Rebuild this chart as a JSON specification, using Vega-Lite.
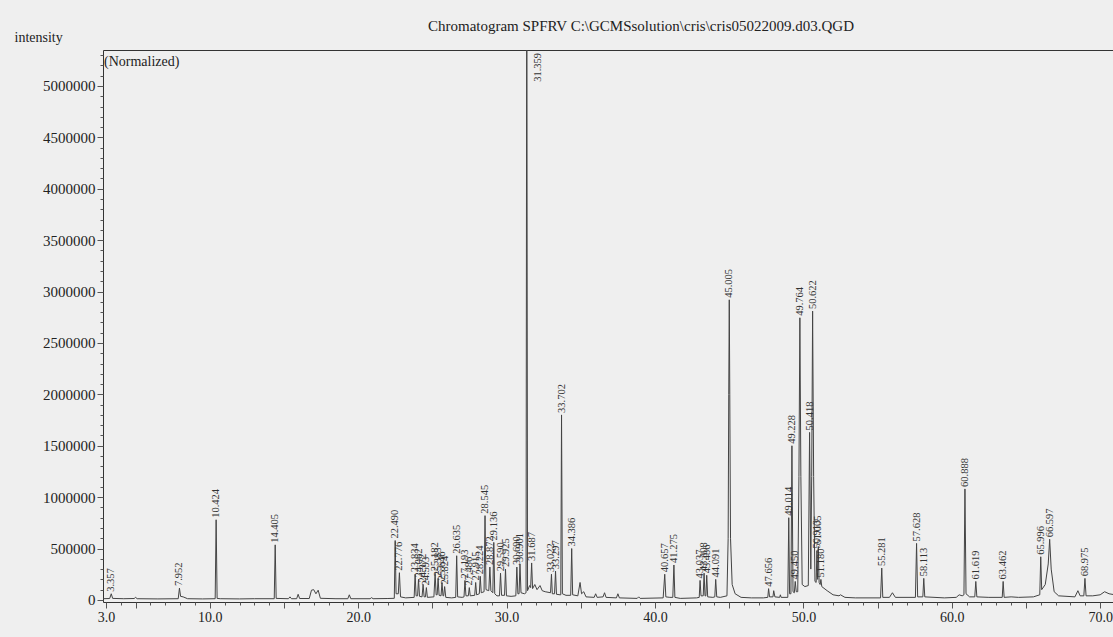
{
  "$schema": "https://vega.github.io/schema/vega-lite/v6.json",
  "width": 1012,
  "height": 552,
  "autosize": {"type": "none"},
  "padding": {"left": 103, "top": 50, "right": 0, "bottom": 35},
  "background": "#efefef",
  "title": {
    "text": "Chromatogram SPFRV C:\\GCMSsolution\\cris\\cris05022009.d03.QGD",
    "anchor": "middle", "frame": "group", "dx": 32, "dy": 36, "offset": 17, "baseline": "bottom",
    "font": "Liberation Serif", "fontSize": 15, "fontWeight": "normal", "color": "#222"
  },
  "config": {
    "view": {"stroke": "#333", "strokeWidth": 1},
    "font": "Liberation Serif",
    "axis": {"labelOverlap": false, "labelBound": false}
  },
  "resolve": {"axis": {"x": "independent", "y": "independent"}},
  "datasets": {
    "trace": [
      {"t": 2.8, "v": 12000}, {"t": 3.25, "v": 14000}, {"t": 3.357, "v": 60000}, {"t": 3.45, "v": 15000},
      {"t": 4.2, "v": 12000}, {"t": 4.9, "v": 14000}, {"t": 5.0, "v": 25000}, {"t": 5.1, "v": 12000},
      {"t": 6.5, "v": 10000}, {"t": 7.87, "v": 12000}, {"t": 7.952, "v": 115000}, {"t": 8.03, "v": 35000}, {"t": 8.2, "v": 30000}, {"t": 8.5, "v": 12000},
      {"t": 9.5, "v": 10000}, {"t": 10.36, "v": 12000}, {"t": 10.424, "v": 780000}, {"t": 10.49, "v": 15000}, {"t": 10.7, "v": 12000},
      {"t": 12.0, "v": 10000}, {"t": 13.0, "v": 12000}, {"t": 14.34, "v": 12000}, {"t": 14.405, "v": 536000}, {"t": 14.47, "v": 15000},
      {"t": 15.3, "v": 12000}, {"t": 15.4, "v": 30000}, {"t": 15.5, "v": 12000}, {"t": 15.85, "v": 12000}, {"t": 15.95, "v": 55000}, {"t": 16.05, "v": 14000},
      {"t": 16.7, "v": 14000}, {"t": 16.85, "v": 95000}, {"t": 17.0, "v": 100000}, {"t": 17.15, "v": 60000}, {"t": 17.3, "v": 95000}, {"t": 17.45, "v": 16000},
      {"t": 18.5, "v": 12000}, {"t": 19.3, "v": 12000}, {"t": 19.4, "v": 50000}, {"t": 19.5, "v": 12000},
      {"t": 20.8, "v": 12000}, {"t": 20.9, "v": 22000}, {"t": 21.0, "v": 12000},
      {"t": 22.0, "v": 14000}, {"t": 22.43, "v": 16000}, {"t": 22.49, "v": 578000}, {"t": 22.55, "v": 60000}, {"t": 22.7, "v": 60000}, {"t": 22.776, "v": 265000}, {"t": 22.85, "v": 30000}, {"t": 23.2, "v": 20000},
      {"t": 23.77, "v": 25000}, {"t": 23.834, "v": 250000}, {"t": 23.9, "v": 40000}, {"t": 24.0, "v": 40000}, {"t": 24.062, "v": 200000}, {"t": 24.13, "v": 35000}, {"t": 24.3, "v": 30000}, {"t": 24.372, "v": 150000}, {"t": 24.44, "v": 30000}, {"t": 24.53, "v": 30000}, {"t": 24.593, "v": 120000}, {"t": 24.66, "v": 25000},
      {"t": 25.1, "v": 30000}, {"t": 25.182, "v": 260000}, {"t": 25.25, "v": 50000}, {"t": 25.32, "v": 50000}, {"t": 25.383, "v": 210000}, {"t": 25.45, "v": 45000}, {"t": 25.58, "v": 40000}, {"t": 25.646, "v": 170000}, {"t": 25.71, "v": 40000}, {"t": 25.76, "v": 40000}, {"t": 25.824, "v": 130000}, {"t": 25.9, "v": 25000},
      {"t": 26.3, "v": 20000}, {"t": 26.57, "v": 25000}, {"t": 26.635, "v": 430000}, {"t": 26.7, "v": 30000}, {"t": 27.0, "v": 25000},
      {"t": 27.13, "v": 30000}, {"t": 27.193, "v": 190000}, {"t": 27.26, "v": 40000}, {"t": 27.42, "v": 40000}, {"t": 27.486, "v": 120000}, {"t": 27.55, "v": 40000}, {"t": 27.85, "v": 45000}, {"t": 27.915, "v": 170000}, {"t": 27.98, "v": 50000}, {"t": 28.16, "v": 60000}, {"t": 28.224, "v": 230000}, {"t": 28.29, "v": 70000}, {"t": 28.48, "v": 80000}, {"t": 28.545, "v": 820000}, {"t": 28.61, "v": 100000}, {"t": 28.8, "v": 90000}, {"t": 28.872, "v": 320000}, {"t": 28.94, "v": 90000}, {"t": 29.07, "v": 70000}, {"t": 29.136, "v": 560000}, {"t": 29.2, "v": 60000}, {"t": 29.35, "v": 40000},
      {"t": 29.52, "v": 40000}, {"t": 29.59, "v": 260000}, {"t": 29.66, "v": 45000}, {"t": 29.86, "v": 45000}, {"t": 29.925, "v": 300000}, {"t": 29.99, "v": 40000}, {"t": 30.3, "v": 35000},
      {"t": 30.62, "v": 40000}, {"t": 30.69, "v": 320000}, {"t": 30.76, "v": 60000}, {"t": 30.84, "v": 60000}, {"t": 30.901, "v": 350000}, {"t": 30.97, "v": 70000}, {"t": 31.2, "v": 60000},
      {"t": 31.31, "v": 70000}, {"t": 31.359, "v": 6500000}, {"t": 31.41, "v": 90000}, {"t": 31.55, "v": 140000}, {"t": 31.62, "v": 120000}, {"t": 31.687, "v": 360000}, {"t": 31.75, "v": 110000}, {"t": 31.9, "v": 150000}, {"t": 32.05, "v": 100000}, {"t": 32.25, "v": 140000}, {"t": 32.4, "v": 90000}, {"t": 32.6, "v": 80000}, {"t": 32.96, "v": 70000}, {"t": 33.022, "v": 250000}, {"t": 33.08, "v": 60000}, {"t": 33.23, "v": 60000}, {"t": 33.297, "v": 280000}, {"t": 33.36, "v": 55000}, {"t": 33.6, "v": 50000},
      {"t": 33.65, "v": 50000}, {"t": 33.702, "v": 1800000}, {"t": 33.76, "v": 60000}, {"t": 34.0, "v": 45000}, {"t": 34.32, "v": 45000}, {"t": 34.386, "v": 500000}, {"t": 34.45, "v": 50000},
      {"t": 34.8, "v": 40000}, {"t": 34.95, "v": 170000}, {"t": 35.05, "v": 60000}, {"t": 35.2, "v": 80000}, {"t": 35.35, "v": 30000},
      {"t": 35.9, "v": 25000}, {"t": 36.0, "v": 60000}, {"t": 36.1, "v": 25000}, {"t": 36.5, "v": 30000}, {"t": 36.6, "v": 70000}, {"t": 36.7, "v": 25000}, {"t": 37.4, "v": 20000}, {"t": 37.5, "v": 60000}, {"t": 37.6, "v": 20000}, {"t": 38.8, "v": 15000}, {"t": 38.9, "v": 30000}, {"t": 39.0, "v": 15000},
      {"t": 40.55, "v": 20000}, {"t": 40.657, "v": 250000}, {"t": 40.73, "v": 30000}, {"t": 41.0, "v": 25000}, {"t": 41.2, "v": 25000}, {"t": 41.275, "v": 340000}, {"t": 41.34, "v": 25000}, {"t": 41.7, "v": 15000},
      {"t": 42.8, "v": 20000}, {"t": 42.98, "v": 25000}, {"t": 43.037, "v": 190000}, {"t": 43.1, "v": 40000}, {"t": 43.25, "v": 40000}, {"t": 43.308, "v": 260000}, {"t": 43.37, "v": 40000}, {"t": 43.43, "v": 40000}, {"t": 43.486, "v": 240000}, {"t": 43.55, "v": 30000}, {"t": 43.9, "v": 25000}, {"t": 44.03, "v": 30000}, {"t": 44.091, "v": 200000}, {"t": 44.16, "v": 30000}, {"t": 44.4, "v": 25000},
      {"t": 44.85, "v": 40000}, {"t": 44.93, "v": 600000}, {"t": 44.97, "v": 2000000}, {"t": 45.005, "v": 2920000}, {"t": 45.04, "v": 2000000}, {"t": 45.09, "v": 600000}, {"t": 45.2, "v": 150000}, {"t": 45.4, "v": 60000}, {"t": 45.8, "v": 25000},
      {"t": 46.5, "v": 20000}, {"t": 47.3, "v": 20000}, {"t": 47.6, "v": 25000}, {"t": 47.656, "v": 110000}, {"t": 47.72, "v": 30000}, {"t": 47.95, "v": 30000}, {"t": 48.0, "v": 90000}, {"t": 48.08, "v": 30000}, {"t": 48.4, "v": 25000}, {"t": 48.45, "v": 50000}, {"t": 48.5, "v": 25000},
      {"t": 48.95, "v": 25000}, {"t": 49.014, "v": 800000}, {"t": 49.07, "v": 60000}, {"t": 49.16, "v": 60000}, {"t": 49.228, "v": 1500000}, {"t": 49.3, "v": 80000}, {"t": 49.39, "v": 70000}, {"t": 49.45, "v": 180000}, {"t": 49.52, "v": 80000},
      {"t": 49.62, "v": 80000}, {"t": 49.7, "v": 1200000}, {"t": 49.764, "v": 2745000}, {"t": 49.83, "v": 1200000}, {"t": 49.92, "v": 150000}, {"t": 50.1, "v": 130000},
      {"t": 50.33, "v": 140000}, {"t": 50.418, "v": 1630000}, {"t": 50.5, "v": 300000}, {"t": 50.56, "v": 1200000}, {"t": 50.622, "v": 2810000}, {"t": 50.69, "v": 1200000}, {"t": 50.78, "v": 180000},
      {"t": 50.86, "v": 170000}, {"t": 50.913, "v": 480000}, {"t": 50.96, "v": 200000}, {"t": 51.005, "v": 520000}, {"t": 51.06, "v": 170000}, {"t": 51.13, "v": 150000}, {"t": 51.18, "v": 200000}, {"t": 51.24, "v": 130000}, {"t": 51.6, "v": 90000}, {"t": 52.0, "v": 50000}, {"t": 52.4, "v": 40000}, {"t": 52.5, "v": 50000}, {"t": 52.8, "v": 25000},
      {"t": 53.5, "v": 20000}, {"t": 55.2, "v": 20000}, {"t": 55.281, "v": 310000}, {"t": 55.35, "v": 25000}, {"t": 55.8, "v": 25000}, {"t": 56.0, "v": 70000}, {"t": 56.2, "v": 25000},
      {"t": 57.55, "v": 25000}, {"t": 57.628, "v": 550000}, {"t": 57.7, "v": 30000}, {"t": 58.05, "v": 30000}, {"t": 58.113, "v": 210000}, {"t": 58.18, "v": 30000},
      {"t": 59.5, "v": 20000}, {"t": 60.3, "v": 25000}, {"t": 60.5, "v": 50000}, {"t": 60.7, "v": 40000}, {"t": 60.82, "v": 50000}, {"t": 60.888, "v": 1080000}, {"t": 60.96, "v": 60000}, {"t": 61.2, "v": 30000}, {"t": 61.55, "v": 30000}, {"t": 61.619, "v": 180000}, {"t": 61.69, "v": 30000},
      {"t": 62.5, "v": 25000}, {"t": 63.4, "v": 25000}, {"t": 63.462, "v": 180000}, {"t": 63.53, "v": 25000}, {"t": 64.0, "v": 30000}, {"t": 64.5, "v": 25000},
      {"t": 65.5, "v": 30000}, {"t": 65.93, "v": 50000}, {"t": 65.996, "v": 420000}, {"t": 66.06, "v": 100000}, {"t": 66.3, "v": 150000}, {"t": 66.5, "v": 350000}, {"t": 66.597, "v": 590000}, {"t": 66.7, "v": 300000}, {"t": 66.9, "v": 80000}, {"t": 67.2, "v": 40000},
      {"t": 68.3, "v": 30000}, {"t": 68.5, "v": 90000}, {"t": 68.65, "v": 40000}, {"t": 68.9, "v": 40000}, {"t": 68.975, "v": 210000}, {"t": 69.05, "v": 40000}, {"t": 69.5, "v": 40000}, {"t": 70.0, "v": 50000}, {"t": 70.3, "v": 80000}, {"t": 70.6, "v": 60000}, {"t": 71.0, "v": 50000}
    ],
    "peaks": [
      {"label": "3.357", "t": 3.357, "v": 60000},
      {"label": "7.952", "t": 7.952, "v": 115000},
      {"label": "10.424", "t": 10.424, "v": 780000},
      {"label": "14.405", "t": 14.405, "v": 536000},
      {"label": "22.490", "t": 22.49, "v": 578000},
      {"label": "22.776", "t": 22.776, "v": 265000},
      {"label": "23.834", "t": 23.834, "v": 250000},
      {"label": "24.062", "t": 24.062, "v": 200000},
      {"label": "24.372", "t": 24.372, "v": 150000},
      {"label": "24.593", "t": 24.593, "v": 120000},
      {"label": "25.182", "t": 25.182, "v": 260000},
      {"label": "25.383", "t": 25.383, "v": 210000},
      {"label": "25.646", "t": 25.646, "v": 170000},
      {"label": "25.824", "t": 25.824, "v": 130000},
      {"label": "26.635", "t": 26.635, "v": 430000},
      {"label": "27.193", "t": 27.193, "v": 190000},
      {"label": "27.486", "t": 27.486, "v": 120000},
      {"label": "27.915", "t": 27.915, "v": 170000},
      {"label": "28.224", "t": 28.224, "v": 230000},
      {"label": "28.545", "t": 28.545, "v": 820000},
      {"label": "28.872", "t": 28.872, "v": 320000},
      {"label": "29.136", "t": 29.136, "v": 560000},
      {"label": "29.590", "t": 29.59, "v": 260000},
      {"label": "29.925", "t": 29.925, "v": 300000},
      {"label": "30.690", "t": 30.69, "v": 320000},
      {"label": "30.901", "t": 30.901, "v": 350000},
      {"label": "31.687", "t": 31.687, "v": 360000},
      {"label": "33.022", "t": 33.022, "v": 250000},
      {"label": "33.297", "t": 33.297, "v": 280000},
      {"label": "33.702", "t": 33.702, "v": 1800000},
      {"label": "34.386", "t": 34.386, "v": 500000},
      {"label": "40.657", "t": 40.657, "v": 250000},
      {"label": "41.275", "t": 41.275, "v": 340000},
      {"label": "43.037", "t": 43.037, "v": 190000},
      {"label": "43.308", "t": 43.308, "v": 260000},
      {"label": "43.486", "t": 43.486, "v": 240000},
      {"label": "44.091", "t": 44.091, "v": 200000},
      {"label": "45.005", "t": 45.005, "v": 2920000},
      {"label": "47.656", "t": 47.656, "v": 110000},
      {"label": "49.014", "t": 49.014, "v": 800000},
      {"label": "49.228", "t": 49.228, "v": 1500000},
      {"label": "49.450", "t": 49.45, "v": 180000},
      {"label": "49.764", "t": 49.764, "v": 2745000},
      {"label": "50.418", "t": 50.418, "v": 1630000},
      {"label": "50.622", "t": 50.622, "v": 2810000},
      {"label": "50.913", "t": 50.913, "v": 480000},
      {"label": "51.005", "t": 51.005, "v": 520000},
      {"label": "51.180", "t": 51.18, "v": 200000},
      {"label": "55.281", "t": 55.281, "v": 310000},
      {"label": "57.628", "t": 57.628, "v": 550000},
      {"label": "58.113", "t": 58.113, "v": 210000},
      {"label": "60.888", "t": 60.888, "v": 1080000},
      {"label": "61.619", "t": 61.619, "v": 180000},
      {"label": "63.462", "t": 63.462, "v": 180000},
      {"label": "65.996", "t": 65.996, "v": 420000},
      {"label": "66.597", "t": 66.597, "v": 590000},
      {"label": "68.975", "t": 68.975, "v": 210000}
    ],
    "top": [
      {"label": "31.359", "t": 31.359}
    ]
  },
  "layer": [
    {
      "encoding": {
        "x": {
          "field": "t", "type": "quantitative",
          "scale": {"domain": [2.8, 71.0], "nice": false, "zero": false},
          "axis": {
            "title": null, "grid": false, "domain": false,
            "values": [3, 4, 5, 6, 7, 8, 9, 10, 11, 12, 13, 14, 15, 16, 17, 18, 19, 20, 21, 22, 23, 24, 25, 26, 27, 28, 29, 30, 31, 32, 33, 34, 35, 36, 37, 38, 39, 40, 41, 42, 43, 44, 45, 46, 47, 48, 49, 50, 51, 52, 53, 54, 55, 56, 57, 58, 59, 60, 61, 62, 63, 64, 65, 66, 67, 68, 69, 70],
            "labelExpr": "datum.value === 3 || datum.value % 10 === 0 ? format(datum.value, '.1f') : ''",
            "tickSize": {"condition": {"test": "datum.value % 5 === 0 || datum.value === 3", "value": 6}, "value": 3},
            "tickColor": "#555", "labelColor": "#222", "labelFont": "Liberation Serif", "labelFontSize": 14, "labelPadding": 2, "labelFlush": false, "labelOverlap": false
          }
        },
        "y": {
          "field": "v", "type": "quantitative",
          "scale": {"domain": [-20000, 5350000], "nice": false, "zero": false},
          "axis": {
            "title": "intensity", "titleAngle": 0, "titleX": -89, "titleY": -6, "titleAlign": "left", "titleBaseline": "bottom",
            "titleFont": "Liberation Serif", "titleFontSize": 14, "titleFontWeight": "normal", "titleColor": "#222",
            "grid": false, "domain": false,
            "values": [0, 100000, 200000, 300000, 400000, 500000, 600000, 700000, 800000, 900000, 1000000, 1100000, 1200000, 1300000, 1400000, 1500000, 1600000, 1700000, 1800000, 1900000, 2000000, 2100000, 2200000, 2300000, 2400000, 2500000, 2600000, 2700000, 2800000, 2900000, 3000000, 3100000, 3200000, 3300000, 3400000, 3500000, 3600000, 3700000, 3800000, 3900000, 4000000, 4100000, 4200000, 4300000, 4400000, 4500000, 4600000, 4700000, 4800000, 4900000, 5000000, 5100000, 5200000, 5300000],
            "labelExpr": "datum.value % 500000 === 0 ? '' + datum.value : ''",
            "tickSize": {"condition": {"test": "datum.value % 500000 === 0", "value": 6}, "value": 3},
            "tickColor": "#555", "labelColor": "#222", "labelFont": "Liberation Serif", "labelFontSize": 15, "labelPadding": 2, "labelOverlap": false
          }
        }
      },
      "layer": [
        {
          "data": {"name": "trace"},
          "mark": {"type": "line", "clip": true, "color": "#444", "strokeWidth": 1}
        },
        {
          "data": {"name": "peaks"},
          "mark": {"type": "text", "angle": 270, "align": "left", "baseline": "middle", "dx": 2, "font": "Liberation Serif", "fontSize": 10.5, "color": "#333"},
          "encoding": {
            "text": {"field": "label"}
          }
        }
      ]
    },
    {
      "data": {"name": "top"},
      "mark": {"type": "text", "angle": 270, "align": "left", "baseline": "middle", "dy": 11, "font": "Liberation Serif", "fontSize": 10.5, "color": "#333"},
      "encoding": {
        "x": {"field": "t", "type": "quantitative", "axis": null},
        "y": {"datum": 5040000, "axis": null},
        "text": {"field": "label"}
      }
    },
    {
      "data": {"values": [{"note": "(Normalized)"}]},
      "mark": {"type": "text", "align": "left", "baseline": "top", "font": "Liberation Serif", "fontSize": 14, "color": "#222"},
      "encoding": {
        "x": {"datum": 2.87, "axis": null},
        "y": {"datum": 5300000, "axis": null},
        "text": {"field": "note"}
      }
    }
  ]
}
